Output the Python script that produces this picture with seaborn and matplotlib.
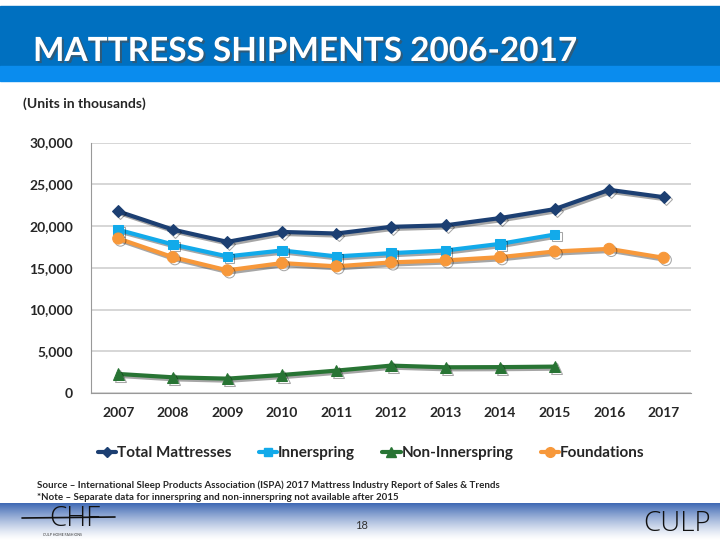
import numpy as np
import pandas as pd
import matplotlib
matplotlib.use('Agg')
import matplotlib.pyplot as plt
import matplotlib.patheffects as pe
from matplotlib.lines import Line2D
from matplotlib.patches import Rectangle
import seaborn as sns

# data (units in thousands)
years = [2007, 2008, 2009, 2010, 2011, 2012, 2013, 2014, 2015, 2016, 2017]
total = [21750, 19570, 18100, 19290, 19100, 19900, 20080, 20950, 22020, 24330, 23450]
innerspring = [19550, 17790, 16360, 17070, 16360, 16750, 17070, 17860, 18980, np.nan, np.nan]
non_innerspring = [2280, 1880, 1720, 2160, 2680, 3280, 3080, 3100, 3160, np.nan, np.nan]
foundations = [18500, 16270, 14690, 15560, 15170, 15640, 15880, 16270, 16950, 17260, 16190]

series = ['Total Mattresses', 'Innerspring', 'Non-Innerspring', 'Foundations']
colors = {'Total Mattresses': '#1C3F72', 'Innerspring': '#12AAEA',
          'Non-Innerspring': '#287434', 'Foundations': '#F7983A'}
markers = {'Total Mattresses': 'D', 'Innerspring': 's',
           'Non-Innerspring': '^', 'Foundations': 'o'}
msize = {'Total Mattresses': 6, 'Innerspring': 7,
         'Non-Innerspring': 8, 'Foundations': 8}

df = pd.DataFrame({'year': years, 'Total Mattresses': total, 'Innerspring': innerspring,
                   'Non-Innerspring': non_innerspring, 'Foundations': foundations})
long = df.melt(id_vars='year', var_name='series', value_name='units').dropna()

sns.set_style('white')
plt.rcParams['font.family'] = ['Lato', 'DejaVu Sans']

fig = plt.figure(figsize=(7.2, 5.4), dpi=100)
W, H = 720, 540

def fy(y):
    return 1 - y / H

# header banner
fig.patches.append(Rectangle((0, fy(66)), 1, 60 / H, transform=fig.transFigure,
                             color='#0070C0', zorder=0))
fig.patches.append(Rectangle((0, fy(81)), 1, 15 / H, transform=fig.transFigure,
                             color='#0A8CEE', zorder=0))
fig.text(33 / W, fy(61), 'MATTRESS SHIPMENTS 2006-2017', color='white',
         fontsize=24, fontweight='bold', fontstretch='condensed',
         path_effects=[pe.withSimplePatchShadow(offset=(1.5, -1.5), alpha=0.6)])
fig.text(23 / W, fy(108), '(Units in thousands)', fontsize=10, fontweight='bold')

# bottom gradient band
gax = fig.add_axes([0, 0, 1, 37 / H])
grad = np.linspace(0, 1, 100).reshape(-1, 1)
top = np.array(matplotlib.colors.to_rgb('#3F69B4'))
bot = np.array([1.0, 1.0, 1.0])
img = top * (1 - grad[..., None]) ** 1.3 + bot * (1 - (1 - grad[..., None]) ** 1.3)
gax.imshow(img, aspect='auto', extent=[0, 1, 0, 1])
gax.set_axis_off()
fig.text(361 / W, fy(529), '18', fontsize=8, ha='center', color='#333333')
fig.text(711 / W, fy(531), 'CULP', fontsize=20, ha='right', color='#111111',
         family=['Open Sans', 'DejaVu Sans'], fontweight='light')
fig.text(75 / W, fy(526), 'CHF', fontsize=20, ha='center', color='#111111',
         family=['Open Sans', 'DejaVu Sans'], fontweight='light')
fig.add_artist(Line2D([22 / W, 115 / W], [fy(518), fy(517)], color='#111111', lw=1.2))
fig.text(62 / W, fy(533), 'CULP HOME FASHIONS', fontsize=2.5, ha='center', va='top',
         color='#333333')

# footer notes
fig.text(37 / W, fy(488), 'Source \u2013 International Sleep Products Association (ISPA) 2017 '
         'Mattress Industry Report of Sales & Trends', fontsize=7, fontweight='bold')
fig.text(37 / W, fy(500), '*Note \u2013 Separate data for innerspring and non-innerspring '
         'not available after 2015', fontsize=7, fontweight='bold')

# main chart
ax = fig.add_axes([91 / W, fy(393), 600 / W, 250.5 / H])
for s in series:
    d = long[long['series'] == s]
    sns.lineplot(data=d, x='year', y='units', ax=ax, color=colors[s], marker=markers[s],
                 markersize=msize[s], markeredgecolor=colors[s], linewidth=3,
                 label=s, legend=False, zorder=3)
for ln in ax.lines:
    ln.set_path_effects([pe.SimpleLineShadow(offset=(1.5, -1.5), alpha=0.35), pe.Normal()])

ax.set_xlim(2006.5, 2017.5)
ax.set_ylim(0, 30000)
ax.set_xticks(years)
ax.set_xticklabels([str(y) for y in years], fontsize=10, fontweight='bold')
ax.set_xticks(np.arange(2006.5, 2018, 1), minor=True)
ax.tick_params(axis='x', which='major', length=0, pad=10)
ax.tick_params(axis='x', which='minor', length=5, color='#999999', direction='out')
ax.set_yticks(np.arange(0, 30001, 5000))
ax.set_yticklabels(['{:,}'.format(v) for v in range(0, 30001, 5000)],
                   fontsize=10, fontweight='bold')
ax.tick_params(axis='y', length=5, color='#999999', direction='out', pad=8)
ax.yaxis.grid(True, color='#D0D0D0', lw=1.2)
ax.set_axisbelow(True)
for sp in ['top', 'right']:
    ax.spines[sp].set_visible(False)
for sp in ['left', 'bottom']:
    ax.spines[sp].set_color('#999999')
ax.set_xlabel('')
ax.set_ylabel('')

handles = [Line2D([], [], color=colors[s], marker=markers[s], lw=3,
                  markersize=msize[s] - 1, markeredgecolor=colors[s]) for s in series]
fig.legend(handles, series, loc='center', bbox_to_anchor=(371 / W, fy(453)), ncol=4,
           frameon=False, handlelength=1.2, handletextpad=0.05, columnspacing=1.8,
           prop={'size': 11, 'weight': 'bold'})

fig.savefig('out.png', dpi=100)
